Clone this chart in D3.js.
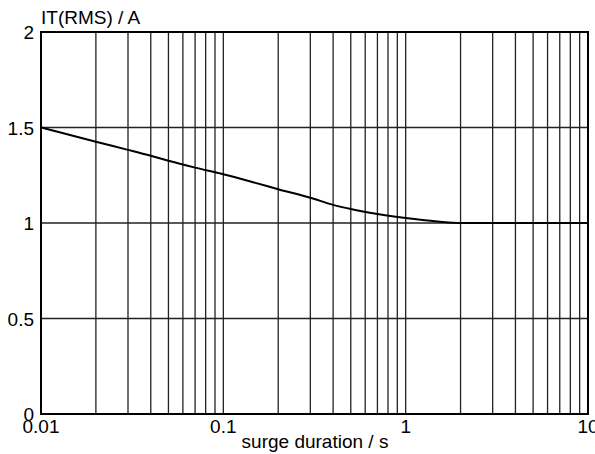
<!DOCTYPE html>
<html>
<head>
<meta charset="utf-8">
<script src="https://cdn.jsdelivr.net/npm/d3@7"></script>
<style>
  body { margin: 0; background: #fff; }
  svg text { font-family: "Liberation Sans", Arial, sans-serif; fill: #000; }
</style>
</head>
<body>
<svg id="chart" width="595" height="454"></svg>
<script>
// surge duration (s) vs IT(RMS) (A)
var durations = [0.01, 0.02, 0.03, 0.04, 0.05, 0.07, 0.1, 0.15, 0.2, 0.3, 0.4, 0.5, 0.7, 1, 1.5, 2, 3, 10];
var currents  = [1.5, 1.425, 1.383, 1.352, 1.326, 1.29, 1.255, 1.21, 1.177, 1.132, 1.095, 1.073, 1.047, 1.026, 1.008, 1.0, 1.0, 1.0];

var xTicks = [0.01, 0.1, 1, 10];
var xTickLabels = ["0.01", "0.1", "1", "10"];
var yTicks = [0, 0.5, 1, 1.5, 2];
var yTickLabels = ["0", "0.5", "1", "1.5", "2"];

var yTitle = "IT(RMS) / A";
var xTitle = "surge duration / s";

var svg = d3.select("#chart");

var margins = { top: 32, bottom: 40, left: 41, right: 7 };
var width = 595 - margins.left - margins.right;
var height = 454 - margins.top - margins.bottom;

var xScale = d3.scaleLog().domain([0.01, 10]).range([0, width]);
var yScale = d3.scaleLinear().domain([0, 2]).range([height, 0]);

var g = svg.append("g")
    .attr("transform", "translate(" + margins.left + "," + margins.top + ")");

// minor decade gridlines 2..9 in every decade
var vGrid = [];
[0.01, 0.1, 1].forEach(function(dec) {
    for (var k = 2; k <= 9; k++) vGrid.push(dec * k);
});
vGrid = vGrid.concat([0.1, 1]);

g.selectAll(".vgrid")
    .data(vGrid)
    .enter().append("line")
    .attr("class", "vgrid")
    .attr("x1", function(d) { return xScale(d); })
    .attr("x2", function(d) { return xScale(d); })
    .attr("y1", 0)
    .attr("y2", height)
    .attr("stroke", "#222")
    .attr("stroke-width", 1.3);

g.selectAll(".hgrid")
    .data([0.5, 1, 1.5])
    .enter().append("line")
    .attr("class", "hgrid")
    .attr("x1", 0)
    .attr("x2", width)
    .attr("y1", function(d) { return yScale(d); })
    .attr("y2", function(d) { return yScale(d); })
    .attr("stroke", "#222")
    .attr("stroke-width", 1.3);

// curve
var line = d3.line()
    .x(function(d, i) { return xScale(durations[i]); })
    .y(function(d) { return yScale(d); })
    .curve(d3.curveMonotoneX);

g.append("path")
    .datum(currents)
    .attr("d", line)
    .attr("fill", "none")
    .attr("stroke", "#000")
    .attr("stroke-width", 2);

// frame
g.append("rect")
    .attr("x", 0).attr("y", 0)
    .attr("width", width).attr("height", height)
    .attr("fill", "none")
    .attr("stroke", "#000")
    .attr("stroke-width", 2);

// tick labels
g.selectAll(".xlab")
    .data(xTicks)
    .enter().append("text")
    .attr("class", "xlab")
    .attr("x", function(d) { return xScale(d); })
    .attr("y", height + 19)
    .attr("text-anchor", "middle")
    .style("font-size", "19px")
    .text(function(d, i) { return xTickLabels[i]; });

g.selectAll(".ylab")
    .data(yTicks)
    .enter().append("text")
    .attr("class", "ylab")
    .attr("x", -7)
    .attr("y", function(d) { return yScale(d) + 7; })
    .attr("text-anchor", "end")
    .style("font-size", "19px")
    .text(function(d, i) { return yTickLabels[i]; });

// titles
svg.append("text")
    .attr("x", margins.left)
    .attr("y", 24)
    .style("font-size", "19px")
    .text(yTitle);

svg.append("text")
    .attr("x", 315)
    .attr("y", 448)
    .attr("text-anchor", "middle")
    .style("font-size", "19px")
    .text(xTitle);
</script>
</body>
</html>
